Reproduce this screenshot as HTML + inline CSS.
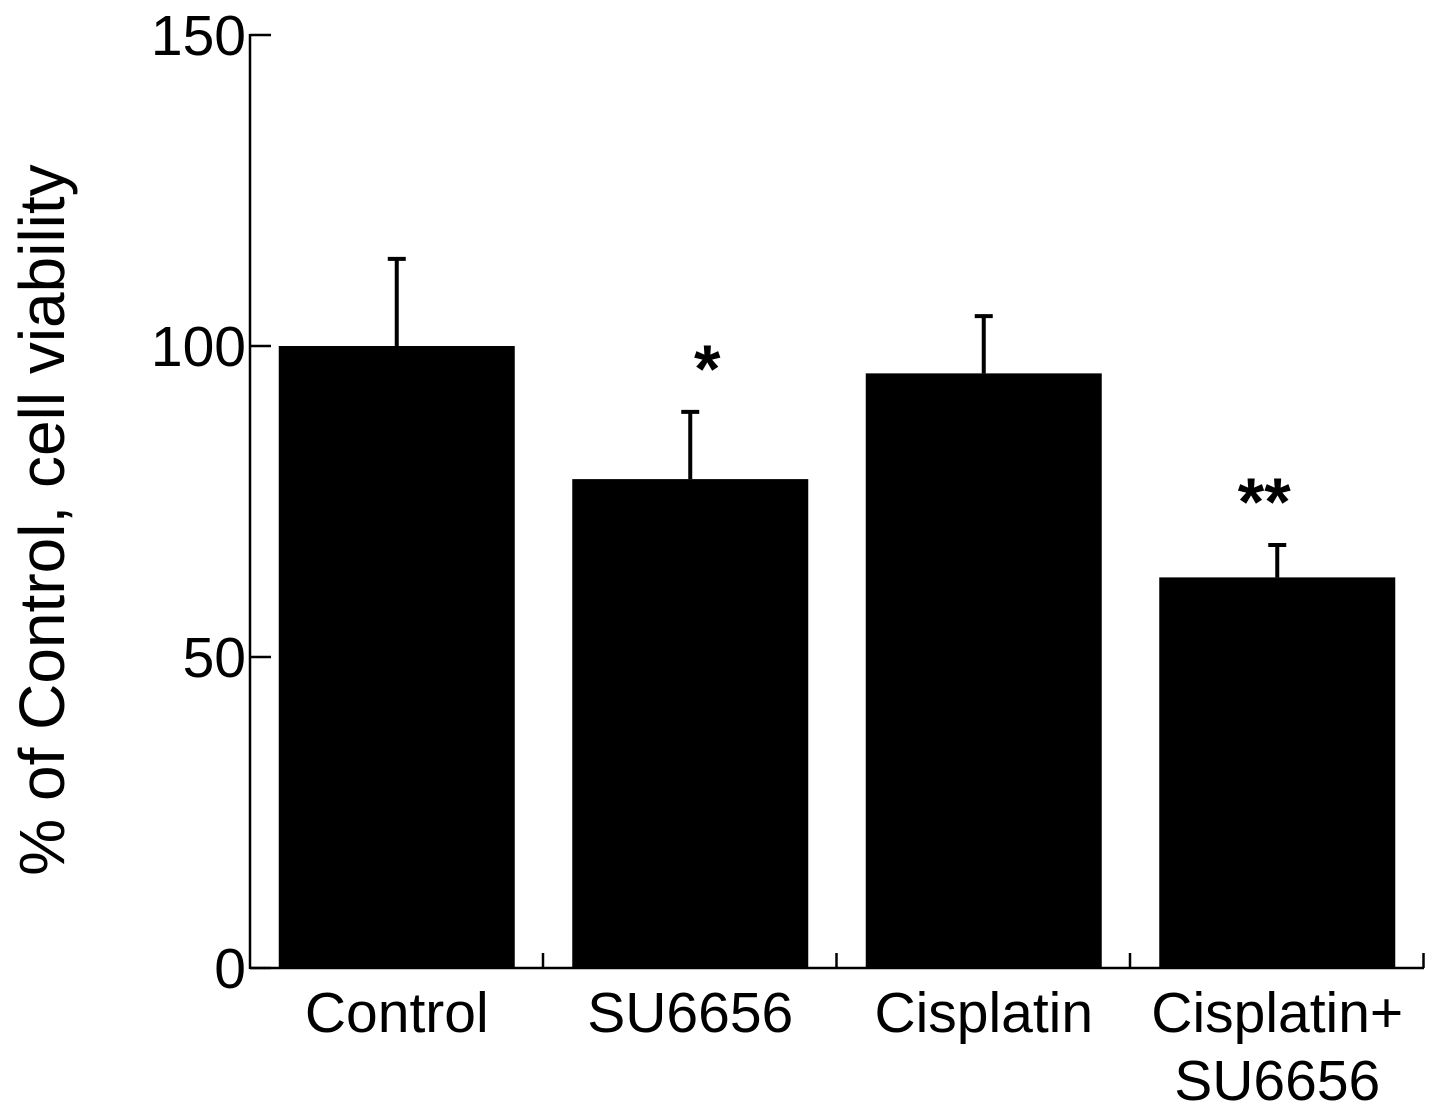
<!DOCTYPE html>
<html><head><meta charset="utf-8"><style>
html,body{margin:0;padding:0;background:#fff;}
svg{display:block;font-family:"Liberation Sans",Arial,sans-serif;}
</style></head><body>
<svg id="chart" width="1441" height="1115" viewBox="0 0 1441 1115">
<g id="plot"></g>
</svg>
<script>
const categories = [["Control"],["SU6656"],["Cisplatin"],["Cisplatin+","SU6656"]];
const values = [100, 78.6, 95.6, 62.8];
const errors = [14, 10.8, 9.2, 5.2];
const stars = ["", "*", "", "**"];
const yTicks = [0, 50, 100, 150];

const NS = "http://www.w3.org/2000/svg";
const g = document.getElementById('plot');
const x0 = 250, x1 = 1424, yBase = 968, yTop = 35;
const y = v => yBase - (v / 150) * (yBase - yTop);
const slot = (x1 - x0) / categories.length;
const barW = 236;
function mk(tag, attrs, parent) {
  const e = document.createElementNS(NS, tag);
  for (const k in attrs) e.setAttribute(k, attrs[k]);
  (parent || g).appendChild(e);
  return e;
}
let ax = mk('line', {x1: x0, y1: yTop - 1, x2: x0, y2: yBase + 1, stroke: '#000', 'stroke-width': 2.5});


let bx = mk('line', {x1: x0, y1: yBase, x2: x1, y2: yBase, stroke: '#000', 'stroke-width': 2.5});


yTicks.forEach(t => {
  const ty = y(t);
  const l = mk('line', {x1: x0, y1: ty, x2: x0 + 21, y2: ty, stroke: '#000', 'stroke-width': 2.5});
  
  
  const tx = mk('text', {x: x0 - 4, y: ty + 20, 'text-anchor': 'end', 'font-size': 57});
  tx.textContent = t;
  
  
});
for (let i = 1; i <= categories.length; i++) {
  const xx = x0 + slot * i - 0.5;
  const l = mk('line', {x1: xx, y1: yBase, x2: xx, y2: yBase - 15, stroke: '#000', 'stroke-width': 2.5});
  
  
}
categories.forEach((c, i) => {
  const cx = x0 + slot * i + slot / 2;
  const top = y(values[i]);
  const eTop = y(values[i] + errors[i]);
  const el = mk('line', {x1: cx, y1: eTop, x2: cx, y2: top, stroke: '#000', 'stroke-width': 4});
  
  
  const cap = mk('line', {x1: cx - 9, y1: eTop, x2: cx + 9, y2: eTop, stroke: '#000', 'stroke-width': 4});
  
  
  const r = mk('rect', {x: cx - barW / 2, y: top, width: barW, height: yBase - top, fill: '#000'});
  
  
  if (stars[i]) {
    const dx = stars[i].length === 1 ? 17 : -13;
    const s = mk('text', {x: cx + dx, y: eTop - 20, 'text-anchor': 'middle', 'font-size': 68, 'font-weight': 'bold'});
    s.textContent = stars[i];
    
    
  }
  c.forEach((line, j) => {
    const t = mk('text', {x: cx, y: 1032 + j * 68, 'text-anchor': 'middle', 'font-size': 57});
    t.textContent = line;
    
    
  });
});
const yt = mk('text', {x: 0, y: 0, 'text-anchor': 'middle', 'font-size': 64, transform: 'translate(64,520) rotate(-90)'});
yt.textContent = '% of Control, cell viability';


</script>
</body></html>
